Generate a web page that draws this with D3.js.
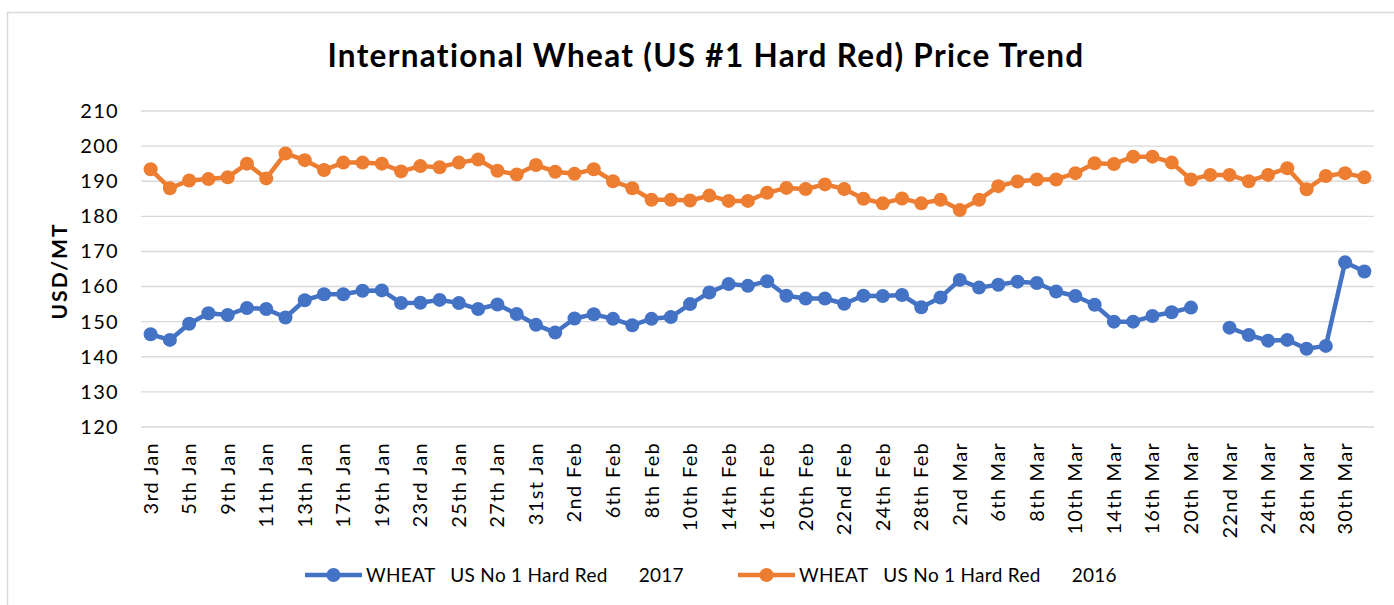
<!DOCTYPE html>
<html>
<head>
<meta charset="utf-8">
<script src="https://cdn.jsdelivr.net/npm/d3@7"></script>
<style>
    body { margin: 0; background: #fff; }
    text { font-family: Lato, "Open Sans", sans-serif; fill: #000; }
</style>
</head>
<body>
<svg id="chart" width="1394" height="605"></svg>
<script>
// trading days, Jan - Mar
const dates = [
    "3rd Jan", "4th Jan", "5th Jan", "6th Jan", "9th Jan", "10th Jan", "11th Jan", "12th Jan",
    "13th Jan", "16th Jan", "17th Jan", "18th Jan", "19th Jan", "20th Jan", "23rd Jan", "24th Jan",
    "25th Jan", "26th Jan", "27th Jan", "30th Jan", "31st Jan", "1st Feb", "2nd Feb", "3rd Feb",
    "6th Feb", "7th Feb", "8th Feb", "9th Feb", "10th Feb", "13th Feb", "14th Feb", "15th Feb",
    "16th Feb", "17th Feb", "20th Feb", "21st Feb", "22nd Feb", "23rd Feb", "24th Feb", "27th Feb",
    "28th Feb", "1st Mar", "2nd Mar", "3rd Mar", "6th Mar", "7th Mar", "8th Mar", "9th Mar",
    "10th Mar", "13th Mar", "14th Mar", "15th Mar", "16th Mar", "17th Mar", "20th Mar", "21st Mar",
    "22nd Mar", "23rd Mar", "24th Mar", "27th Mar", "28th Mar", "29th Mar", "30th Mar", "31st Mar"
];

const wheat2017 = [
    146.4, 144.8, 149.4, 152.4, 151.9, 153.9, 153.6, 151.2, 156.1, 157.8,
    157.8, 158.8, 158.9, 155.3, 155.4, 156.2, 155.3, 153.6, 154.9, 152.2,
    149.1, 146.9, 150.9, 152.1, 150.8, 149.0, 150.8, 151.3, 155.0, 158.3,
    160.7, 160.2, 161.5, 157.4, 156.6, 156.6, 155.1, 157.4, 157.3, 157.6,
    154.1, 156.9, 161.9, 159.7, 160.5, 161.4, 161.0, 158.6, 157.3, 154.8,
    150.0, 150.0, 151.6, 152.7, 154.0, null, 148.3, 146.2, 144.6, 144.8,
    142.3, 143.1, 166.9, 164.3
];

const wheat2016 = [
    193.4, 188.0, 190.2, 190.6, 191.1, 195.0, 190.8, 197.9, 196.0, 193.2,
    195.3, 195.3, 195.0, 192.8, 194.3, 194.0, 195.3, 196.2, 193.0, 191.9,
    194.6, 192.7, 192.1, 193.4, 190.0, 188.0, 184.7, 184.7, 184.5, 185.9,
    184.4, 184.4, 186.7, 188.1, 187.8, 189.1, 187.8, 185.0, 183.7, 185.1,
    183.7, 184.7, 181.8, 184.7, 188.6, 189.9, 190.5, 190.5, 192.3, 195.1,
    194.9, 197.0, 197.0, 195.3, 190.5, 191.8, 191.8, 190.0, 191.8, 193.7,
    187.7, 191.5, 192.3, 191.1
];

const yTicks = [120, 130, 140, 150, 160, 170, 180, 190, 200, 210];

const series = [
    { name: "WHEAT   US No 1 Hard Red      2017", values: wheat2017, color: "#4472C4" },
    { name: "WHEAT   US No 1 Hard Red      2016", values: wheat2016, color: "#ED7D31" }
];

const svg = d3.select("#chart");

// outer chart border
svg.append("rect")
    .attr("x", 7.5).attr("y", 12.5)
    .attr("width", 1400).attr("height", 600)
    .attr("fill", "none")
    .attr("stroke", "#d9d9d9")
    .attr("stroke-width", 1.5);

const plotLeft = 141, plotRight = 1374, plotTop = 111, plotBottom = 427;

const x = d3.scaleBand().domain(dates).range([plotLeft, plotRight]);
const y = d3.scaleLinear().domain([120, 210]).range([plotBottom, plotTop]);

// gridlines
svg.append("g")
    .selectAll("line")
    .data(yTicks)
    .enter()
    .append("line")
    .attr("x1", plotLeft).attr("x2", plotRight)
    .attr("y1", d => y(d)).attr("y2", d => y(d))
    .attr("stroke", "#d9d9d9")
    .attr("stroke-width", 1.4);

// y axis labels
const yAxis = svg.append("g")
    .attr("transform", `translate(${plotLeft - 10},0)`)
    .call(d3.axisLeft(y).tickValues(yTicks).tickSize(0).tickPadding(12));
yAxis.select(".domain").remove();
yAxis.selectAll("text")
    .attr("font-size", 20)
    .attr("font-family", "Lato, sans-serif")
    .attr("letter-spacing", 1.3)
    .attr("fill", "#000");

// x axis labels, every other date
const xAxis = svg.append("g")
    .attr("transform", `translate(0,${plotBottom})`)
    .call(d3.axisBottom(x).tickValues(dates.filter((d, i) => i % 2 === 0)).tickSize(0));
xAxis.select(".domain").remove();
xAxis.selectAll("text")
    .attr("font-size", 20)
    .attr("font-family", "Lato, sans-serif")
    .attr("letter-spacing", 1.3)
    .attr("fill", "#000")
    .attr("text-anchor", "end")
    .attr("transform", "rotate(-90)")
    .attr("x", -15)
    .attr("y", 0)
    .attr("dy", "0.35em");

// titles
svg.append("text")
    .attr("x", 706).attr("y", 67)
    .attr("text-anchor", "middle")
    .attr("font-size", 31.5)
    .attr("font-weight", "bold")
    .attr("letter-spacing", 1.3)
    .text("International Wheat (US #1 Hard Red) Price Trend");

svg.append("text")
    .attr("transform", "translate(67,271) rotate(-90)")
    .attr("text-anchor", "middle")
    .attr("font-size", 21)
    .attr("font-weight", "bold")
    .attr("letter-spacing", 2)
    .text("USD/MT");

// lines and markers
const line = d3.line()
    .defined(d => d != null)
    .x((d, i) => x(dates[i]) + x.bandwidth() / 2)
    .y(d => y(d));

series.forEach(s => {
    svg.append("path")
        .datum(s.values)
        .attr("fill", "none")
        .attr("stroke", s.color)
        .attr("stroke-width", 4.5)
        .attr("stroke-linejoin", "round")
        .attr("d", line);

    svg.append("g")
        .selectAll("circle")
        .data(s.values.map((v, i) => ({ v, i })).filter(d => d.v != null))
        .enter()
        .append("circle")
        .attr("cx", d => x(dates[d.i]) + x.bandwidth() / 2)
        .attr("cy", d => y(d.v))
        .attr("r", 7)
        .attr("fill", s.color);
});

// legend
const legendX = [305, 738];
series.forEach((s, i) => {
    const g = svg.append("g").attr("transform", `translate(${legendX[i]},575)`);
    g.append("line")
        .attr("x1", 0).attr("x2", 57)
        .attr("stroke", s.color)
        .attr("stroke-width", 4.5);
    g.append("circle")
        .attr("cx", 28.5).attr("r", 7)
        .attr("fill", s.color);
    g.append("text")
        .attr("x", 61).attr("dy", "0.35em")
        .attr("font-size", 19)
        .attr("letter-spacing", 0.3)
        .style("white-space", "pre")
        .attr("fill", "#404040")
        .text(s.name);
});
</script>
</body>
</html>
